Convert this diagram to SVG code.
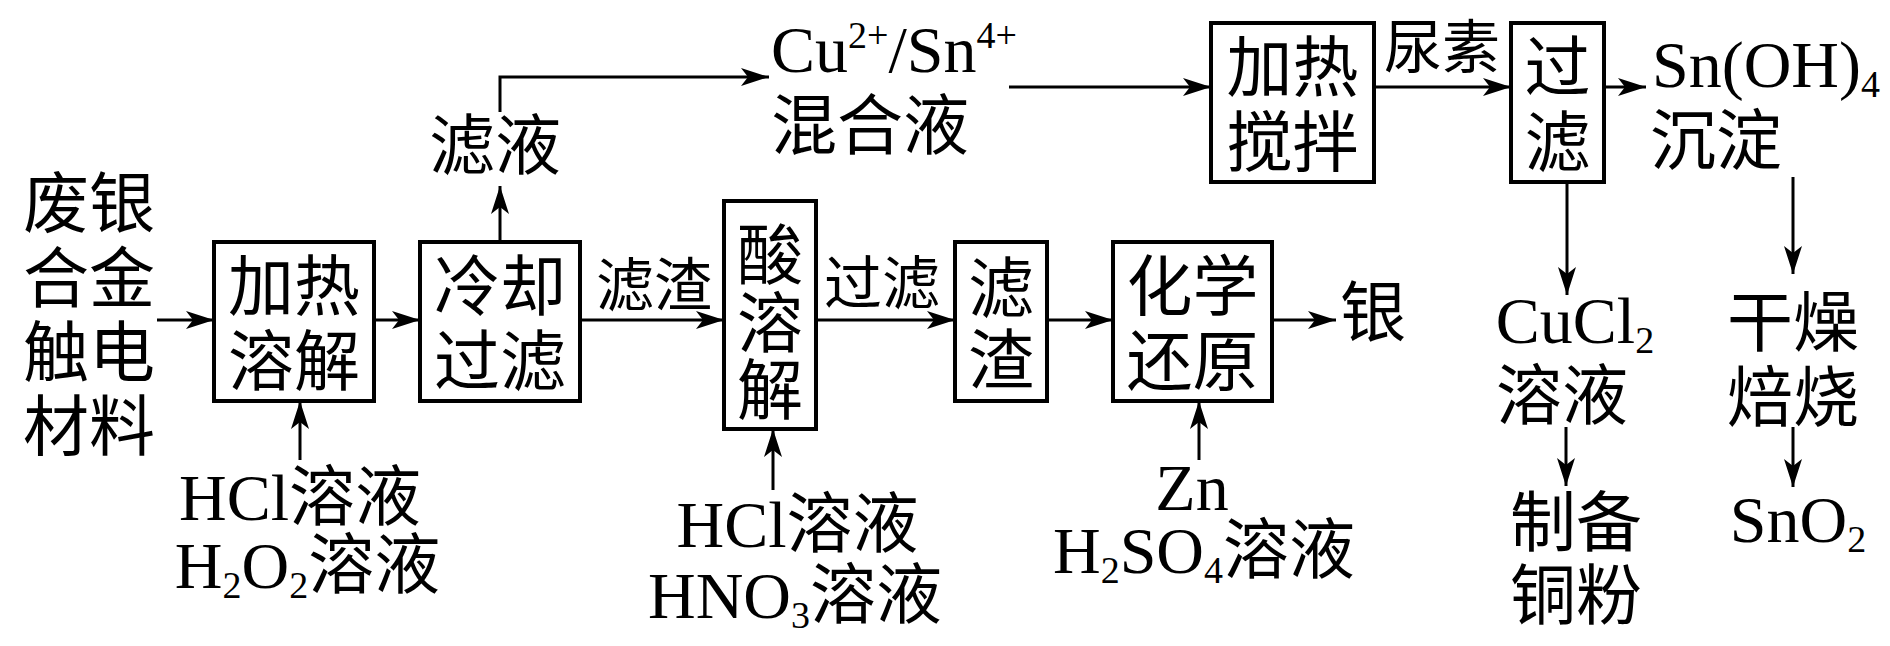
<svg xmlns="http://www.w3.org/2000/svg" width="1890" height="646" viewBox="0 0 1890 646">
<defs>
<style>
text{font-family:"Liberation Serif","Noto Sans CJK SC",serif;font-size:66px;fill:#000}
.s{font-size:58px}
.m{text-anchor:middle}
.box{fill:#fff;stroke:#000;stroke-width:4}
.ln{fill:none;stroke:#000;stroke-width:3}
</style>
<marker id="ah" viewBox="0 0 28 18" refX="28" refY="9" markerWidth="28" markerHeight="18" markerUnits="userSpaceOnUse" orient="auto">
<path d="M0,0 L28,9 L0,18 L7,9 Z" fill="#000"/>
</marker>
</defs>
<rect width="1890" height="646" fill="#fff"/>

<g id="connectors">
<line class="ln" x1="157" y1="320" x2="214" y2="320" marker-end="url(#ah)"/>
<line class="ln" x1="374" y1="320" x2="420" y2="320" marker-end="url(#ah)"/>
<line class="ln" x1="580" y1="320" x2="724" y2="320" marker-end="url(#ah)"/>
<line class="ln" x1="816" y1="320" x2="955" y2="320" marker-end="url(#ah)"/>
<line class="ln" x1="1047" y1="320" x2="1113" y2="320" marker-end="url(#ah)"/>
<line class="ln" x1="1272" y1="320" x2="1336" y2="320" marker-end="url(#ah)"/>
<line class="ln" x1="500" y1="242" x2="500" y2="186" marker-end="url(#ah)"/>
<polyline class="ln" points="500,112 500,77 769,77" marker-end="url(#ah)"/>
<line class="ln" x1="1009" y1="87" x2="1211" y2="87" marker-end="url(#ah)"/>
<line class="ln" x1="1374" y1="87" x2="1511" y2="87" marker-end="url(#ah)"/>
<line class="ln" x1="1604" y1="87" x2="1646" y2="87" marker-end="url(#ah)"/>
<line class="ln" x1="1567" y1="182" x2="1567" y2="295" marker-end="url(#ah)"/>
<line class="ln" x1="1793" y1="177" x2="1793" y2="274" marker-end="url(#ah)"/>
<line class="ln" x1="1566" y1="427" x2="1566" y2="486" marker-end="url(#ah)"/>
<line class="ln" x1="1793" y1="427" x2="1793" y2="487" marker-end="url(#ah)"/>
<line class="ln" x1="300" y1="460" x2="300" y2="401" marker-end="url(#ah)"/>
<line class="ln" x1="773" y1="490" x2="773" y2="429" marker-end="url(#ah)"/>
<line class="ln" x1="1199" y1="460" x2="1199" y2="401" marker-end="url(#ah)"/>
<text class="s m" x="654" y="306">滤渣</text>
<text class="s m" x="882" y="304">过滤</text>
<text class="s m" x="1442" y="68">尿素</text>
</g>

<g id="n-raw">
<text class="m" x="89" y="227">废银</text>
<text class="m" x="89" y="302">合金</text>
<text class="m" x="89" y="376">触电</text>
<text class="m" x="89" y="450">材料</text>
</g>

<g id="n-heat-dissolve">
<rect class="box" x="214" y="242" width="160" height="159"/>
<text class="m" x="294" y="310">加热</text>
<text class="m" x="294" y="385">溶解</text>
</g>

<g id="n-cool-filter">
<rect class="box" x="420" y="242" width="160" height="159"/>
<text class="m" x="500" y="310">冷却</text>
<text class="m" x="500" y="385">过滤</text>
</g>

<g id="n-filtrate">
<text class="m" x="495" y="169">滤液</text>
</g>

<g id="n-mixture">
<text x="771" y="72">Cu<tspan font-size="38" dy="-24">2+</tspan><tspan dy="24">/Sn</tspan><tspan font-size="38" dy="-24">4+</tspan></text>
<text class="m" x="870" y="149">混合液</text>
</g>

<g id="n-acid">
<rect class="box" x="724" y="201" width="92" height="228"/>
<text class="m" x="770" y="279">酸</text>
<text class="m" x="770" y="347">溶</text>
<text class="m" x="770" y="414">解</text>
</g>

<g id="n-residue">
<rect class="box" x="955" y="242" width="92" height="159"/>
<text class="m" x="1001" y="312">滤</text>
<text class="m" x="1001" y="384">渣</text>
</g>

<g id="n-reduce">
<rect class="box" x="1113" y="242" width="159" height="159"/>
<text class="m" x="1192.5" y="310">化学</text>
<text class="m" x="1192.5" y="385">还原</text>
</g>

<g id="n-silver">
<text class="m" x="1373" y="336">银</text>
</g>

<g id="n-heat-stir">
<rect class="box" x="1211" y="23" width="163" height="159"/>
<text class="m" x="1292.5" y="91">加热</text>
<text class="m" x="1292.5" y="166">搅拌</text>
</g>

<g id="n-filter2">
<rect class="box" x="1511" y="23" width="93" height="159"/>
<text class="m" x="1557.5" y="91">过</text>
<text class="m" x="1557.5" y="166">滤</text>
</g>

<g id="n-snoh4">
<text x="1652" y="87">Sn(OH)<tspan font-size="38" dy="10">4</tspan></text>
<text class="m" x="1716" y="164">沉淀</text>
</g>

<g id="n-cucl2">
<text class="m" x="1575" y="343">CuCl<tspan font-size="38" dy="10">2</tspan></text>
<text class="m" x="1562" y="419">溶液</text>
</g>

<g id="n-copper">
<text class="m" x="1576" y="546">制备</text>
<text class="m" x="1576" y="619">铜粉</text>
</g>

<g id="n-dry">
<text class="m" x="1793" y="346">干燥</text>
<text class="m" x="1793" y="421">焙烧</text>
</g>

<g id="n-sno2">
<text class="m" x="1798" y="542">SnO<tspan font-size="38" dy="10">2</tspan></text>
</g>

<g id="n-reagent1">
<text class="m" x="300" y="520">HCl溶液</text>
<text class="m" x="307.5" y="588">H<tspan font-size="38" dy="10">2</tspan><tspan dy="-10">O</tspan><tspan font-size="38" dy="10">2</tspan><tspan dy="-10">溶液</tspan></text>
</g>

<g id="n-reagent2">
<text class="m" x="797.5" y="547">HCl溶液</text>
<text class="m" x="795" y="618">HNO<tspan font-size="38" dy="10">3</tspan><tspan dy="-10">溶液</tspan></text>
</g>

<g id="n-reagent3">
<text class="m" x="1192" y="510">Zn</text>
<text class="m" x="1204" y="573">H<tspan font-size="38" dy="10">2</tspan><tspan dy="-10">SO</tspan><tspan font-size="38" dy="10">4</tspan><tspan dy="-10">溶液</tspan></text>
</g>
</svg>
